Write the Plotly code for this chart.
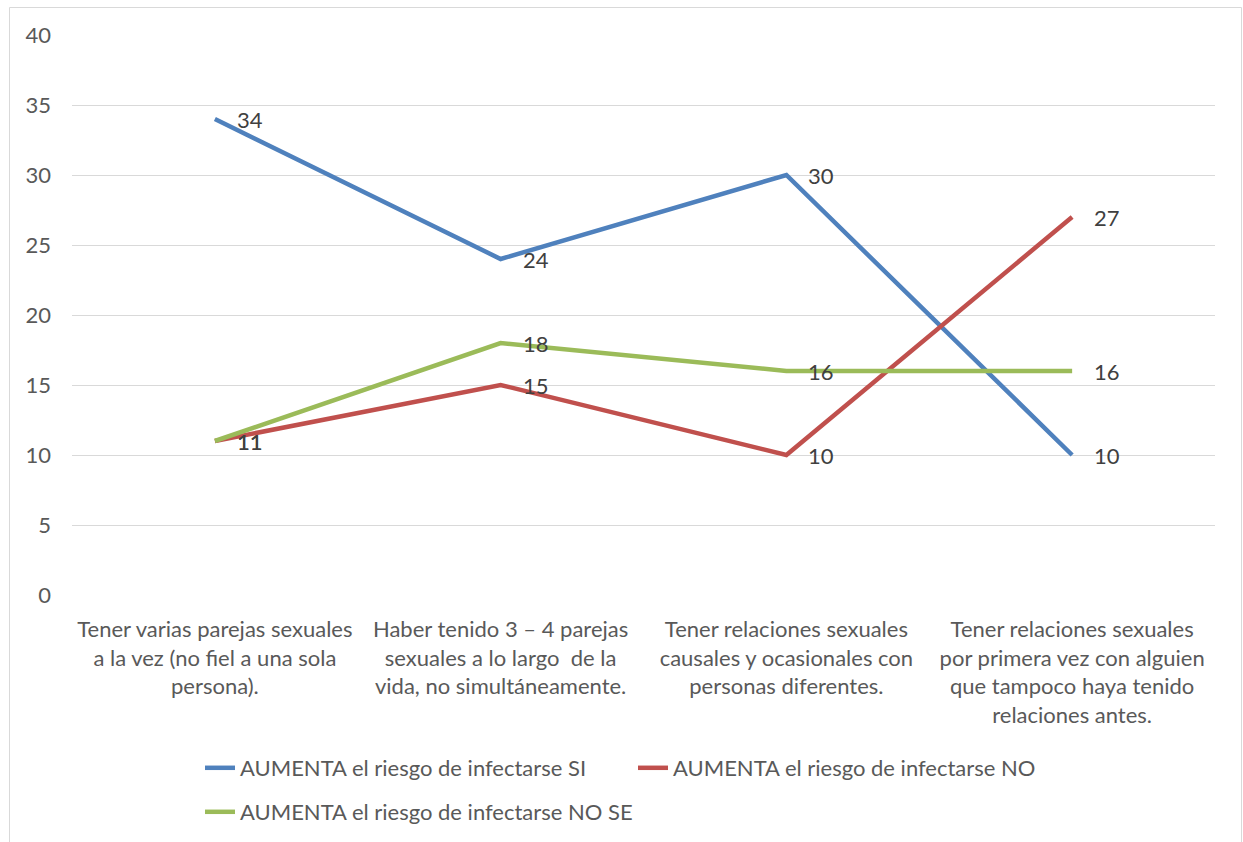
import plotly.graph_objects as go

# Categories (multi-line axis labels)
categories = [
    "Tener varias parejas sexuales<br>a la vez (no fiel a una sola<br>persona).",
    "Haber tenido 3 – 4 parejas<br>sexuales a lo largo  de la<br>vida, no simultáneamente.",
    "Tener relaciones sexuales<br>causales y ocasionales con<br>personas diferentes.",
    "Tener relaciones sexuales<br>por primera vez con alguien<br>que tampoco haya tenido<br>relaciones antes.",
]

series_names = [
    "AUMENTA el riesgo de infectarse SI",
    "AUMENTA el riesgo de infectarse NO",
    "AUMENTA el riesgo de infectarse NO SE",
]
values_si = [34, 24, 30, 10]
values_no = [11, 15, 10, 27]
values_no_se = [11, 18, 16, 16]

colors = ["#4F81BD", "#C0504D", "#9BBB59"]
y_ticks = [0, 5, 10, 15, 20, 25, 30, 35, 40]

FONT = "Lato, Calibri, Carlito, sans-serif"
FS = 22
TEXT_GREY = "#595959"
LABEL_GREY = "#404040"

x_pos = list(range(len(categories)))
all_series = [values_si, values_no, values_no_se]
legend_refs = ["legend", "legend", "legend2"]

fig = go.Figure()
for name, vals, col, lg in zip(series_names, all_series, colors, legend_refs):
    fig.add_trace(go.Scatter(
        x=x_pos, y=vals, name=name, mode="lines",
        line=dict(color=col, width=4.5),
        legend=lg,
        hoverinfo="x+y",
    ))

# Data labels to the right of each point
annotations = []
for vals in all_series:
    for xi, v in zip(x_pos, vals):
        annotations.append(dict(
            x=xi, y=v, xref="x", yref="y", text=str(v), showarrow=False,
            xanchor="left", yanchor="middle", xshift=20,
            font=dict(family=FONT, size=FS, color=LABEL_GREY),
        ))

# Chart border (chart area outline)
W, H = 1243, 842
ml, mr, mt, mb = 72, 28, 35, 247
pw, ph = W - ml - mr, H - mt - mb


def px_to_paper_x(px):
    return (px - ml) / pw


def px_to_paper_y(py):
    return (H - mb - py) / ph


shapes = [dict(
    type="rect", xref="paper", yref="paper",
    x0=px_to_paper_x(9.5), x1=px_to_paper_x(1241.5),
    y0=px_to_paper_y(850), y1=px_to_paper_y(7.5),
    line=dict(color="#D9D9D9", width=1), fillcolor="rgba(0,0,0,0)", layer="below",
)]

fig.update_layout(
    width=W, height=H,
    margin=dict(l=ml, r=mr, t=mt, b=mb, autoexpand=False),
    paper_bgcolor="white", plot_bgcolor="white",
    font=dict(family=FONT, size=FS, color=TEXT_GREY),
    xaxis=dict(
        range=[-0.5, len(categories) - 0.5],
        tickmode="array", tickvals=x_pos, ticktext=categories,
        showgrid=False, zeroline=False, showline=False,
        ticks="", ticklabelstandoff=19, automargin=False,
        tickfont=dict(family=FONT, size=FS, color=TEXT_GREY),
        fixedrange=True,
    ),
    yaxis=dict(
        range=[0, 40], tickmode="array", tickvals=y_ticks,
        showgrid=True, gridcolor="#D9D9D9", gridwidth=1.2,
        zeroline=False, showline=False, ticks="",
        ticklabelstandoff=20, automargin=False,
        tickfont=dict(family=FONT, size=FS, color=TEXT_GREY),
        fixedrange=True,
    ),
    legend=dict(
        orientation="h", xref="container", yref="container",
        x=200 / W, xanchor="left",
        y=(H - 768) / H, yanchor="middle",
        entrywidth=388, entrywidthmode="pixels",
        font=dict(family=FONT, size=FS, color=TEXT_GREY),
        bgcolor="rgba(0,0,0,0)",
    ),
    legend2=dict(
        orientation="h", xref="container", yref="container",
        x=200 / W, xanchor="left",
        y=(H - 812) / H, yanchor="middle",
        font=dict(family=FONT, size=FS, color=TEXT_GREY),
        bgcolor="rgba(0,0,0,0)",
    ),
    annotations=annotations,
    shapes=shapes,
    showlegend=True,
)

fig.write_html("out.html")
